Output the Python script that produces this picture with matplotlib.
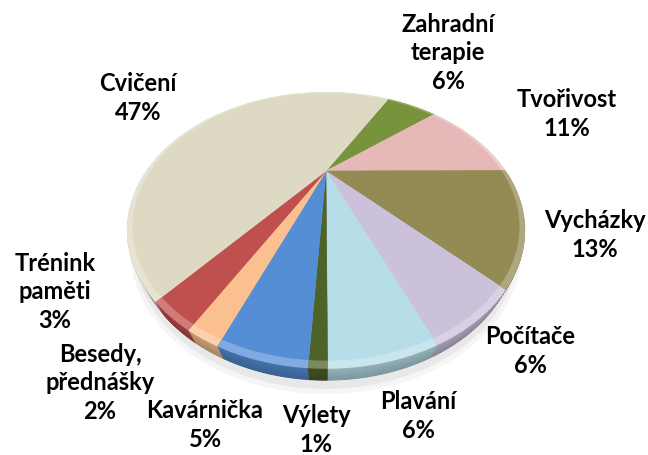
import numpy as np
import matplotlib.pyplot as plt
from matplotlib.patches import Polygon
from matplotlib.colors import to_rgb

# data, clockwise from the top
labels = ['Zahradní\nterapie', 'Tvořivost', 'Vycházky', 'Počítače', 'Plavání',
          'Výlety', 'Kavárnička', 'Besedy,\npřednášky', 'Trénink\npaměti', 'Cvičení']
values = [6, 11, 13, 6, 6, 1, 5, 2, 3, 47]
colors = ['#77933C', '#E6B9B8', '#948A54', '#CCC1DA', '#B7DEE8',
          '#4F6228', '#558ED5', '#FAC090', '#C0504D', '#DDD9C3']

# label centres in pixels (x, y from top)
label_pos = [(448, 53), (567, 114), (595, 235), (530, 351), (418, 416),
             (316, 430), (205, 425), (100, 383), (55, 292), (138, 98)]

W, H = 648, 456
cx, cy = 326, 172      # apex of the pie, px
K = 180                # radius scale, px
elev = np.radians(38.9)  # view elevation
f = 1.816              # camera distance (radius units)
h = 0.10               # disc thickness
start = 61.5


def project(x, y, z):
    v = y * np.sin(elev) + z * np.cos(elev)
    d = y * np.cos(elev) - z * np.sin(elev)
    k = f / (f + d)
    return cx + K * x * k, cy - K * v * k


fig = plt.figure(figsize=(W / 100, H / 100), dpi=100)
ax = fig.add_axes([0, 0, 1, 1])

wedges, _ = ax.pie(values, colors=colors, startangle=start, counterclock=False,
                   wedgeprops=dict(linewidth=0))


def wedge_xy(w, z, r=1.0):
    t = np.radians(np.linspace(w.theta1, w.theta2, 120))
    x = np.concatenate([[0], np.cos(t) * w.r * r])
    y = np.concatenate([[0], np.sin(t) * w.r * r])
    px, py = project(x, y, np.full_like(x, z))
    return np.column_stack([px, py])


def mix(col, other, a):
    return tuple(c * (1 - a) + o * a for c, o in zip(to_rgb(col), to_rgb(other)))


# faint shadow under the disc
t = np.linspace(0, 2 * np.pi, 200)
for k, a in zip([1.03, 1.015], [0.04, 0.05]):
    px, py = project(k * np.cos(t), k * np.sin(t), np.full_like(t, -h - 0.03))
    ax.add_patch(Polygon(np.column_stack([px, py]), closed=True,
                         facecolor='black', alpha=a, linewidth=0, zorder=0))

# side: stacked layers from the bottom up, darker toward the bottom
zs = np.linspace(-h, 0, 30)[:-1]
for z in zs:
    shade = 0.32 - 0.12 * (z + h) / h
    for w, col in zip(wedges, colors):
        ax.add_patch(Polygon(wedge_xy(w, z), closed=True,
                             facecolor=mix(col, 'black', shade),
                             linewidth=0, zorder=1))

# top surface with a soft bevel toward the rim
for w, col in zip(wedges, colors):
    ax.add_patch(Polygon(wedge_xy(w, 0), closed=True,
                         facecolor=mix(col, 'white', 0.25),
                         edgecolor='none', linewidth=0, zorder=2))
    ax.add_patch(Polygon(wedge_xy(w, 0, 0.975), closed=True, facecolor=col,
                         edgecolor=col, linewidth=0.3, zorder=2))
    w.remove()

ax.set_aspect('auto')
ax.set_xlim(0, W)
ax.set_ylim(H, 0)
ax.axis('off')

for lab, v, (px, py) in zip(labels, values, label_pos):
    ax.text(px, py, f'{lab}\n{v}%', ha='center', va='center',
            fontsize=17, fontweight='bold', family='Lato',
            linespacing=1.3, color='black', zorder=3)

fig.savefig('out.png', dpi=100, facecolor='white')
